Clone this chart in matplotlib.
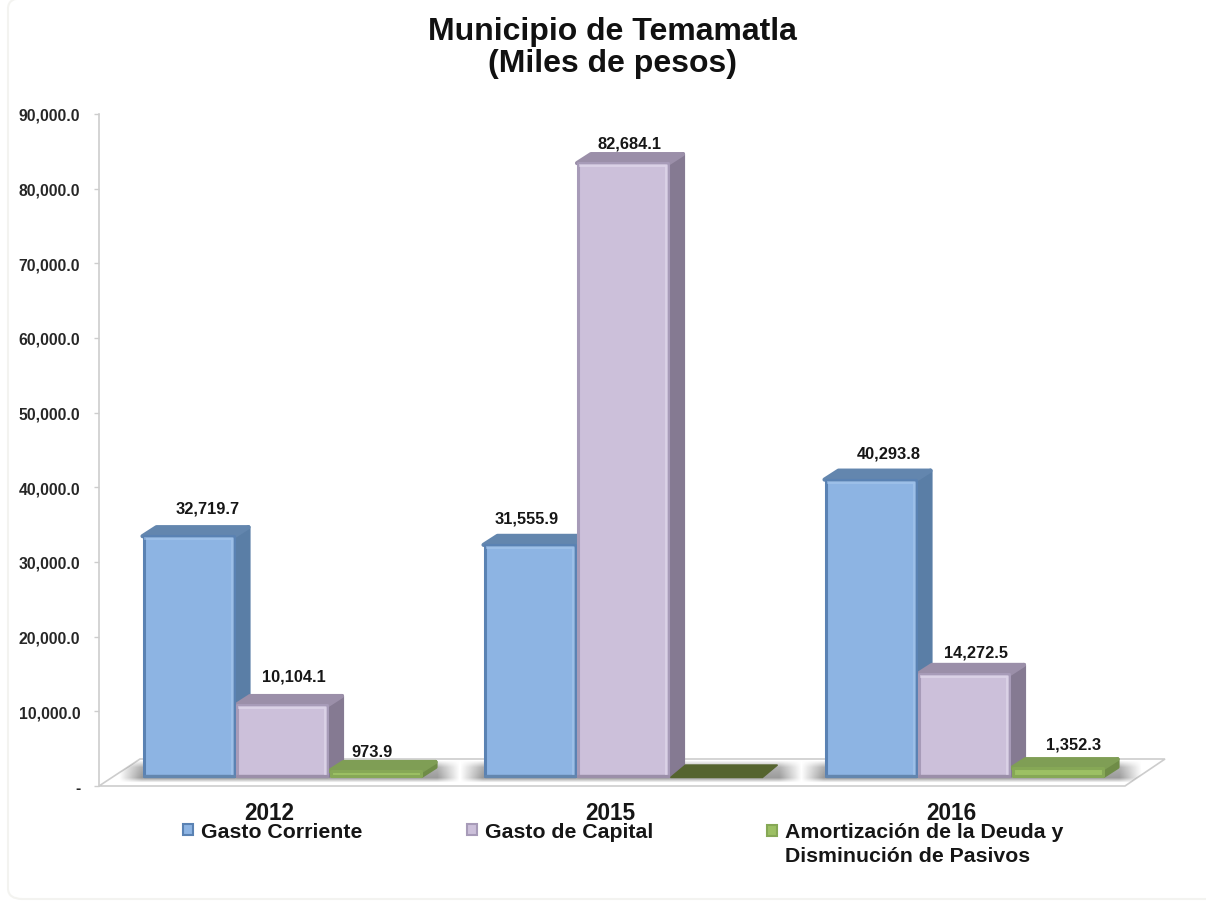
import numpy as np
import matplotlib
matplotlib.use('Agg')
import matplotlib.pyplot as plt
from matplotlib.legend_handler import HandlerPatch
from matplotlib.patches import Patch, Polygon, FancyBboxPatch, Rectangle

years = ['2012', '2015', '2016']
series_names = ['Gasto Corriente', 'Gasto de Capital',
                'Amortización de la Deuda y\nDisminución de Pasivos']
gasto_corriente = [32719.7, 31555.9, 40293.8]
gasto_capital = [10104.1, 82684.1, 14272.5]
amortizacion = [973.9, 0, 1352.3]
y_ticks = [0, 10000, 20000, 30000, 40000, 50000, 60000, 70000, 80000, 90000]
y_tick_labels = ['-', '10,000.0', '20,000.0', '30,000.0', '40,000.0',
                 '50,000.0', '60,000.0', '70,000.0', '80,000.0', '90,000.0']

# colours: front, side, top, edge, rim
blue = ['#8DB4E3', '#5A7EA6', '#6386AE', '#5A82B3', '#A9C9EE']
purple = ['#CCC0DA', '#857A92', '#9B8FA9', '#A79BB8', '#E6DEF0']
green = ['#9CC064', '#6F8C47', '#7F9E55', '#86A856', '#BBD98A']

# label shift from the bar top, pixels
label_shift = [[(19, 28), (-3, 27), (18, 27)],
               [(12, 29), (6, 20), (12, 22)],
               [(-3, 19), None, (16, 24)]]

W, H = 1206, 904
fig = plt.figure(figsize=(W / 100, H / 100), dpi=100, facecolor='white')
plt.rcParams['font.family'] = ['Liberation Sans', 'DejaVu Sans']
plt.rcParams['font.weight'] = 'bold'

# soft frame of the picture
fig.patches.append(FancyBboxPatch((8 / W, 1 - 900 / H), 1300 / W, 901 / H,
                                  boxstyle='round,pad=0,rounding_size=0.012',
                                  transform=fig.transFigure, fc='white',
                                  ec='#F3F3F0', lw=1.5, zorder=-5))

ax = fig.add_axes([99 / W, 1 - 787 / H, (1165 - 99) / W, (787 - 115) / H])
ax.patch.set_alpha(0)

px_x = 1 / 341          # one pixel in x units
px_y = 90000 / 672      # one pixel in value units
ax.set_xlim(-183 * px_x, 883 * px_x)
ax.set_ylim(0, 90000)

base = 10 * px_y
top_trim = [600, 600, 300]
bar_w = 92 * px_x
step = 93.5 * px_x
dx = 14 * px_x
dy = 9 * px_y
x = np.arange(3)

# floor
floor = Polygon([(-183 * px_x, 0), (843 * px_x, 0), (883 * px_x, 27 * px_y),
                 (-142 * px_x, 27 * px_y)], closed=True, fc='white', ec='#CDCDCD',
                lw=1.2, zorder=1, clip_on=False)
ax.add_patch(floor)

# shadows on the floor
alpha_x = np.interp(np.arange(400), [0, 26, 373, 399], [0, 0.75, 0.75, 0])
alpha_y = np.interp(np.arange(24), [0, 7, 18, 23], [0, 0.7, 0.9, 0])
shadow = np.zeros((24, 400, 4))
shadow[..., :3] = 0.42
shadow[..., 3] = alpha_y[:, None] * alpha_x[None, :]
for i in x:
    im = ax.imshow(shadow, extent=[i + (-163) * px_x, i + 178 * px_x, 3 * px_y, 26 * px_y],
                   aspect='auto', zorder=2, interpolation='bilinear')
    im.set_clip_path(floor)
ax.set_xlim(-183 * px_x, 883 * px_x)
ax.set_ylim(0, 90000)

all_series = [gasto_corriente, gasto_capital, amortizacion]
all_colors = [blue, purple, green]
for s, (vals, cols) in enumerate(zip(all_series, all_colors)):
    pos = x + (s - 1) * step
    trim = top_trim[s]
    for i, v in enumerate(vals):
        left = pos[i] - bar_w / 2
        right = pos[i] + bar_w / 2
        if v == 0:
            # empty bar: only a dark flat mark on the floor
            ax.fill([left, right, right + 15 * px_x, left + 15 * px_x],
                    [base - 1.5 * px_y, base - 1.5 * px_y, base + 11 * px_y, base + 11 * px_y],
                    color='#55642F', lw=1, zorder=4)
            continue
        top = base + v - trim
        ax.fill([right, right + dx, right + dx, right],
                [base, base + dy, top + dy, top], fc=cols[1], ec=cols[1],
                lw=3, joinstyle='round', zorder=4)
        ax.fill([left, right, right + dx, left + dx],
                [top, top, top + dy, top + dy], fc=cols[2], ec=cols[2],
                lw=3, joinstyle='round', zorder=4)
    ax.bar(pos, [max(v - trim, 0) if v else 0 for v in vals], bar_w - 2 * px_x, bottom=base,
           color=[cols[0] if v else 'none' for v in vals],
           edgecolor=[cols[3] if v else 'none' for v in vals], linewidth=2.2,
           joinstyle='round', zorder=5)
    # light rim of the bevel, dark line along the foot
    for i, v in enumerate(vals):
        if v == 0:
            continue
        top = base + v - trim
        if s < 2:
            ax.plot([pos[i] - bar_w / 2 + 1 * px_x, pos[i] + bar_w / 2 - 1 * px_x],
                    [base, base], color=cols[2], lw=2.4, zorder=6, solid_capstyle='round')
            ax.plot([pos[i] - bar_w / 2 + 3 * px_x, pos[i] + bar_w / 2 - 3 * px_x, pos[i] + bar_w / 2 - 3 * px_x],
                    [top - 2 * px_y, top - 2 * px_y, base + 3 * px_y],
                    color=cols[4], lw=2, alpha=0.6, zorder=6, solid_joinstyle='round')
        ax.annotate(f'{v:,.1f}', xy=(pos[i], top), xytext=label_shift[s][i],
                    textcoords='offset pixels', ha='center', va='center',
                    fontsize=11.8, fontweight='bold', color='#161616', zorder=8,
                    annotation_clip=False)

for side in ['top', 'right', 'bottom']:
    ax.spines[side].set_visible(False)
ax.spines['left'].set_color('#CDCDCD')
ax.spines['left'].set_linewidth(1.2)

ax.set_yticks(y_ticks, y_tick_labels)
ax.tick_params(axis='y', length=3.5, width=1, color='#CDCDCD', pad=10, labelsize=11.3,
               labelcolor='#262626')
ax.set_xticks(x - 13 * px_x, years)
ax.tick_params(axis='x', length=0, pad=11, labelsize=16.3, labelcolor='#161616')
for t in ax.get_xticklabels() + ax.get_yticklabels():
    t.set_fontweight('bold')

fig.text(612 / W, 1 - 48 / H, 'Municipio de Temamatla\n(Miles de pesos)', ha='center',
         va='center', fontsize=23, fontweight='bold', color='#111111', linespacing=1.13)


# keeps the small square level with the first line of its label
def legend_square(lift):
    def make(legend, orig_handle, xdescent, ydescent, width, height, fontsize):
        return Rectangle((-xdescent, -ydescent + lift), width, height)
    return HandlerPatch(patch_func=make)


# one legend per series, they do not sit on a regular grid
legend_px = [(183, 823), (467, 823), (767, 823)]
legend_lift = [0, 0, 9]
for name, cols, (lx, ly), lift in zip(series_names, all_colors, legend_px, legend_lift):
    patch = Patch(fc=cols[0], ec=cols[3], lw=1.5)
    leg = fig.legend(handles=[patch], labels=[name], loc='upper left',
                     bbox_to_anchor=(lx / W, 1 - ly / H), frameon=False, handlelength=0.45,
                     handleheight=0.45, handletextpad=0.38, borderpad=0, borderaxespad=0,
                     prop={'size': 15.3, 'weight': 'bold'}, labelcolor='#161616',
                     handler_map={patch: legend_square(lift)})
    leg.get_texts()[0].set_linespacing(1.3)

fig.savefig('out.png', dpi=100)
